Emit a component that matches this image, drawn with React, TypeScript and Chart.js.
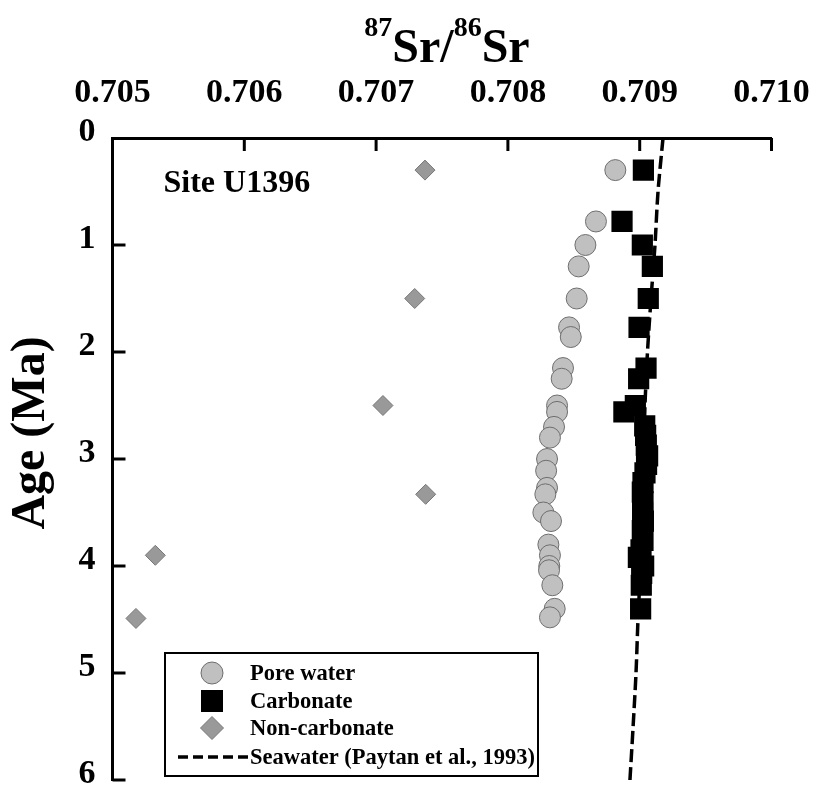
import { useEffect, useRef } from "react";
import { Chart, registerables } from "chart.js";

Chart.register(...registerables);

// Axis ticks
const ratioTicks = [0.705, 0.706, 0.707, 0.708, 0.709, 0.71];
const ageTicks = [0, 1, 2, 3, 4, 5, 6];

// Pore water samples
const poreAge = [0.3, 0.78, 1.0, 1.2, 1.5, 1.77, 1.86, 2.15, 2.25, 2.5, 2.56, 2.7, 2.8, 3.0, 3.11, 3.27, 3.33, 3.5, 3.58, 3.8, 3.9, 4.0, 4.04, 4.18, 4.4, 4.48];
const poreRatio = [0.708815, 0.708668, 0.708588, 0.708537, 0.708522, 0.708464, 0.708477, 0.708418, 0.708408, 0.708373, 0.708373, 0.70835, 0.708319, 0.708297, 0.70829, 0.708297, 0.708284, 0.708269, 0.708327, 0.708307, 0.708319, 0.708314, 0.708312, 0.708337, 0.708355, 0.708319];

// Bulk carbonate samples
const carbAge = [0.3, 0.78, 1.0, 1.2, 1.5, 1.77, 2.15, 2.25, 2.5, 2.56, 2.69, 2.78, 2.87, 2.97, 3.05, 3.13, 3.22, 3.31, 3.4, 3.5, 3.58, 3.67, 3.76, 3.85, 3.92, 4.0, 4.07, 4.18, 4.4];
const carbRatio = [0.709028, 0.708866, 0.70902, 0.709096, 0.709065, 0.708995, 0.709048, 0.708992, 0.708967, 0.70888, 0.709038, 0.709045, 0.70905, 0.70906, 0.709052, 0.70904, 0.709025, 0.70902, 0.709025, 0.709022, 0.709028, 0.70902, 0.709025, 0.70901, 0.70899, 0.70903, 0.709015, 0.709012, 0.709007];

// Non-carbonate (detrital) samples
const nonCarbAge = [0.3, 1.5, 2.5, 3.33, 3.9, 4.49];
const nonCarbRatio = [0.707371, 0.707293, 0.707052, 0.707376, 0.705325, 0.705178];

// Seawater curve (Paytan et al., 1993)
const seaAge = [0, 0.5, 1.0, 1.5, 2.0, 2.5, 3.0, 3.5, 4.0, 4.5, 5.0, 5.5, 6.0];
const seaRatio = [0.709177, 0.709139, 0.709116, 0.709086, 0.709059, 0.70904, 0.709029, 0.709017, 0.709006, 0.708987, 0.708972, 0.70895, 0.708926];

const SERIF = '"Liberation Serif", "Times New Roman", serif';

const toPoints = (ages: number[], ratios: number[]) =>
  ages.map((a, i) => ({ x: ratios[i], y: a }));

// Short tick marks pointing into the plot area
const innerTicks = {
  id: "innerTicks",
  afterDraw(chart: any) {
    const { ctx, chartArea } = chart;
    const xs = chart.scales.x;
    const ys = chart.scales.y;
    ctx.save();
    ctx.strokeStyle = "#000";
    ctx.lineWidth = 3;
    ratioTicks.slice(1).forEach((v) => {
      const px = xs.getPixelForValue(v);
      ctx.beginPath();
      ctx.moveTo(px, chartArea.top);
      ctx.lineTo(px, chartArea.top + 13);
      ctx.stroke();
    });
    ageTicks.slice(1).forEach((v) => {
      const py = ys.getPixelForValue(v);
      ctx.beginPath();
      ctx.moveTo(chartArea.left, py);
      ctx.lineTo(chartArea.left + 13, py);
      ctx.stroke();
    });
    ctx.restore();
  },
};

const titles = {
  id: "titles",
  afterDraw(chart: any) {
    const { ctx, chartArea } = chart;
    ctx.save();
    ctx.fillStyle = "#000";
    ctx.textBaseline = "alphabetic";

    // 87Sr/86Sr with superscripts
    const parts = [
      { t: "87", sup: true },
      { t: "Sr/", sup: false },
      { t: "86", sup: true },
      { t: "Sr", sup: false },
    ];
    const mainFont = `bold 48px ${SERIF}`;
    const supFont = `bold 28px ${SERIF}`;
    let total = 0;
    const widths = parts.map((p) => {
      ctx.font = p.sup ? supFont : mainFont;
      const w = ctx.measureText(p.t).width;
      total += w;
      return w;
    });
    let x = (chartArea.left + chartArea.right) / 2 + 5 - total / 2;
    parts.forEach((p, i) => {
      ctx.font = p.sup ? supFont : mainFont;
      ctx.textAlign = "left";
      ctx.fillText(p.t, x, p.sup ? 36 : 62);
      x += widths[i];
    });

    // Age axis title
    ctx.save();
    ctx.translate(44, 433);
    ctx.rotate(-Math.PI / 2);
    ctx.font = `bold 48px ${SERIF}`;
    ctx.textAlign = "center";
    ctx.fillText("Age (Ma)", 0, 0);
    ctx.restore();

    // Site label
    ctx.font = `bold 32px ${SERIF}`;
    ctx.textAlign = "left";
    ctx.fillText("Site U1396", chartArea.left + 51, 192);
    ctx.restore();
  },
};

const sampleLegend = {
  id: "sampleLegend",
  afterDraw(chart: any) {
    const { ctx, chartArea } = chart;
    const ds = chart.data.datasets;
    const left = chartArea.left + 52.5;
    const top = 653;
    const w = 373;
    const h = 123;
    ctx.save();
    ctx.fillStyle = "#fff";
    ctx.fillRect(left, top, w, h);
    ctx.strokeStyle = "#000";
    ctx.lineWidth = 2;
    ctx.strokeRect(left, top, w, h);

    const mx = left + 47;
    const tx = left + 85;
    const rows = [top + 20, top + 48, top + 75, top + 104];

    // circle
    ctx.beginPath();
    ctx.arc(mx, rows[0], 11, 0, Math.PI * 2);
    ctx.fillStyle = ds[0].backgroundColor;
    ctx.fill();
    ctx.lineWidth = 1;
    ctx.strokeStyle = ds[0].borderColor;
    ctx.stroke();

    // square
    ctx.fillStyle = ds[1].backgroundColor;
    ctx.fillRect(mx - 11, rows[1] - 11, 22, 22);

    // diamond
    ctx.beginPath();
    ctx.moveTo(mx, rows[2] - 11.5);
    ctx.lineTo(mx + 11.5, rows[2]);
    ctx.lineTo(mx, rows[2] + 11.5);
    ctx.lineTo(mx - 11.5, rows[2]);
    ctx.closePath();
    ctx.fillStyle = ds[2].backgroundColor;
    ctx.fill();
    ctx.strokeStyle = ds[2].borderColor;
    ctx.lineWidth = 1;
    ctx.stroke();

    // dashed line
    ctx.beginPath();
    ctx.setLineDash([10, 5]);
    ctx.lineWidth = 3.5;
    ctx.strokeStyle = ds[3].borderColor;
    ctx.moveTo(left + 13, rows[3]);
    ctx.lineTo(left + 84, rows[3]);
    ctx.stroke();
    ctx.setLineDash([]);

    ctx.fillStyle = "#000";
    ctx.font = `bold 22.5px ${SERIF}`;
    ctx.textBaseline = "middle";
    ctx.textAlign = "left";
    ds.forEach((d: any, i: number) => {
      ctx.fillText(d.label, i === 3 ? left + 85 : tx, rows[i] + 1);
    });
    ctx.restore();
  },
};

export default function App() {
  const canvasRef = useRef<HTMLCanvasElement>(null);

  useEffect(() => {
    if (!canvasRef.current) return;
    const tickFont = { family: SERIF, size: 34, weight: "bold" as const };
    const chart = new Chart(canvasRef.current, {
      type: "scatter",
      data: {
        datasets: [
          {
            label: "Pore water",
            data: toPoints(poreAge, poreRatio),
            pointStyle: "circle",
            pointRadius: 10.5,
            backgroundColor: "#c0c0c0",
            borderColor: "#6e6e6e",
            borderWidth: 1,
          },
          {
            label: "Carbonate",
            data: toPoints(carbAge, carbRatio),
            pointStyle: "rect",
            pointRadius: 15,
            backgroundColor: "#000000",
            borderColor: "#000000",
            borderWidth: 0,
          },
          {
            label: "Non-carbonate",
            data: toPoints(nonCarbAge, nonCarbRatio),
            pointStyle: "rectRot",
            pointRadius: 10,
            backgroundColor: "#999999",
            borderColor: "#777777",
            borderWidth: 1,
          },
          {
            label: "Seawater (Paytan et al., 1993)",
            data: toPoints(seaAge, seaRatio),
            showLine: true,
            pointRadius: 0,
            borderColor: "#000000",
            backgroundColor: "#000000",
            borderWidth: 3.5,
            borderDash: [13, 5],
            tension: 0.3,
          },
        ],
      },
      options: {
        responsive: false,
        animation: false,
        devicePixelRatio: 1,
        layout: { padding: { left: 0, top: 0, right: 47.5, bottom: 6 } },
        plugins: {
          legend: { display: false },
          tooltip: { enabled: false },
        },
        scales: {
          x: {
            type: "linear",
            position: "top",
            min: 0.705,
            max: 0.71,
            afterBuildTicks: (scale: any) => {
              scale.ticks = ratioTicks.map((v) => ({ value: v }));
            },
            afterFit: (scale: any) => {
              scale.height = 138;
              scale.paddingLeft = 0;
              scale.paddingRight = 0;
            },
            grid: { display: false, drawTicks: false },
            border: { display: true, color: "#000", width: 3 },
            ticks: {
              font: tickFont,
              color: "#000",
              padding: 24,
              maxRotation: 0,
              autoSkip: false,
              callback: (v: any) => Number(v).toFixed(3),
            },
          },
          y: {
            type: "linear",
            position: "left",
            reverse: true,
            min: 0,
            max: 6,
            afterBuildTicks: (scale: any) => {
              scale.ticks = ageTicks.map((v) => ({ value: v }));
            },
            afterFit: (scale: any) => {
              scale.width = 112.5;
              scale.paddingTop = 0;
              scale.paddingBottom = 0;
            },
            grid: { display: false, drawTicks: false },
            border: { display: true, color: "#000", width: 3 },
            ticks: {
              font: tickFont,
              color: "#000",
              padding: 17,
              labelOffset: -6,
              autoSkip: false,
              callback: (v: any) => String(v),
            },
          },
        },
      },
      plugins: [innerTicks, titles, sampleLegend],
    });
    return () => chart.destroy();
  }, []);

  return (
    <div
      style={{
        position: "absolute",
        left: 0,
        top: 0,
        width: 819,
        height: 795,
        background: "#fff",
      }}
    >
      <canvas ref={canvasRef} width={819} height={795} style={{ display: "block" }} />
    </div>
  );
}
